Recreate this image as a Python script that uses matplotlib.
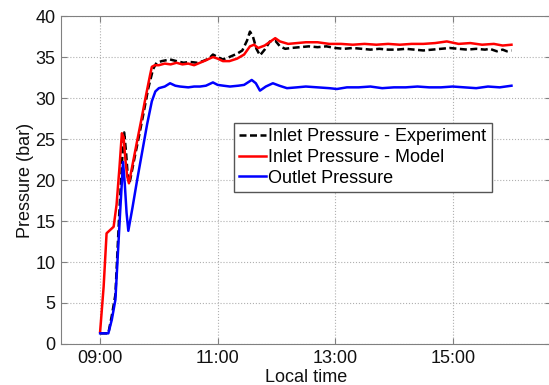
import matplotlib.pyplot as plt
from matplotlib.ticker import FuncFormatter

plt.rcParams['font.family'] = ['Liberation Sans', 'DejaVu Sans']
plt.rcParams['font.size'] = 13

# local time in decimal hours, pressure in bar
t_exp = [9.00, 9.14, 9.20, 9.26, 9.33, 9.38, 9.41, 9.44, 9.47, 9.50, 9.58,
         9.66, 9.74, 9.82, 9.90, 9.96, 10.05, 10.12, 10.19, 10.30, 10.42,
         10.53, 10.65, 10.75, 10.85, 10.92, 11.00, 11.09, 11.20, 11.33,
         11.42, 11.50, 11.55, 11.60, 11.66, 11.72, 11.80, 11.89, 11.98,
         12.06, 12.15, 12.25, 12.40, 12.55, 12.70, 12.85, 13.00, 13.15,
         13.30, 13.45, 13.60, 13.75, 13.90, 14.05, 14.20, 14.35, 14.50,
         14.65, 14.80, 14.95, 15.10, 15.25, 15.40, 15.55, 15.63, 15.75,
         15.85, 15.92, 16.00]
p_exp = [1.3, 1.3, 3.5, 6.0, 16.5, 23.0, 25.8, 23.5, 20.5, 19.6, 22.5,
         25.3, 28.2, 31.2, 33.5, 34.3, 34.5, 34.6, 34.7, 34.5, 34.3,
         34.4, 34.3, 34.5, 34.8, 35.3, 35.0, 34.7, 35.0, 35.4,
         35.8, 37.0, 38.1, 37.5, 36.0, 35.2, 35.9, 36.9, 37.0,
         36.3, 36.0, 36.1, 36.2, 36.3, 36.2, 36.3, 36.1, 36.0,
         36.1, 36.0, 35.9, 36.0, 35.9, 35.9, 36.0, 35.9, 35.8,
         35.9, 36.0, 36.1, 36.0, 35.9, 36.0, 35.9, 36.0, 35.7,
         35.9, 35.7, 35.8]

t_model = [9.00, 9.06, 9.11, 9.17, 9.23, 9.28, 9.33, 9.37, 9.40, 9.43,
           9.46, 9.49, 9.55, 9.62, 9.70, 9.78, 9.85, 9.88, 9.93, 10.00,
           10.10, 10.20, 10.30, 10.40, 10.50, 10.60, 10.70, 10.80, 10.92,
           11.00, 11.09, 11.20, 11.33, 11.45, 11.55, 11.62, 11.69, 11.80,
           11.90, 11.98, 12.06, 12.20, 12.35, 12.50, 12.70, 12.90, 13.10,
           13.30, 13.50, 13.70, 13.90, 14.10, 14.30, 14.50, 14.70, 14.90,
           15.10, 15.30, 15.50, 15.70, 15.85, 16.00]
p_model = [1.5, 7.0, 13.5, 13.9, 14.3, 17.0, 21.6, 25.7, 25.2, 22.5,
           20.5, 19.6, 21.8, 24.4, 27.3, 30.3, 32.8, 33.8, 34.0, 34.0,
           34.2, 34.1, 34.3, 34.1, 34.2, 34.0, 34.3, 34.6, 35.0,
           34.8, 34.5, 34.5, 34.8, 35.3, 36.3, 36.5, 36.1, 36.4,
           36.9, 37.3, 36.9, 36.6, 36.7, 36.8, 36.8, 36.6, 36.6,
           36.5, 36.6, 36.5, 36.6, 36.5, 36.6, 36.6, 36.7, 36.9,
           36.6, 36.7, 36.5, 36.6, 36.4, 36.5]

t_out = [9.00, 9.14, 9.20, 9.26, 9.34, 9.39, 9.42, 9.45, 9.48, 9.55, 9.63,
         9.72, 9.80, 9.88, 9.94, 10.00, 10.10, 10.19, 10.28, 10.36, 10.50,
         10.60, 10.70, 10.80, 10.92, 11.00, 11.10, 11.21, 11.35, 11.45,
         11.58, 11.65, 11.72, 11.82, 11.94, 12.05, 12.18, 12.35, 12.50,
         12.70, 12.90, 13.03, 13.20, 13.40, 13.60, 13.80, 14.00, 14.20,
         14.40, 14.60, 14.80, 15.00, 15.20, 15.40, 15.60, 15.80, 16.00]
p_out = [1.3, 1.3, 3.0, 5.4, 16.0, 22.2, 19.5, 16.0, 13.8, 16.6, 20.0,
         23.6, 26.8, 29.6, 30.8, 31.2, 31.4, 31.8, 31.5, 31.4, 31.3,
         31.4, 31.4, 31.5, 31.9, 31.6, 31.5, 31.4, 31.5, 31.6,
         32.2, 31.8, 30.9, 31.4, 31.8, 31.5, 31.2, 31.3, 31.4,
         31.3, 31.2, 31.1, 31.3, 31.3, 31.4, 31.2, 31.3, 31.3,
         31.4, 31.3, 31.3, 31.4, 31.3, 31.2, 31.4, 31.3, 31.5]

xticks = [9, 11, 13, 15]


def hhmm(h, pos):
    return '%02d:%02d' % (int(h), round((h - int(h)) * 60))


fig = plt.figure(figsize=(5.49, 3.85), dpi=100)
ax = fig.add_axes([0.111, 0.1065, 0.892, 0.8519])

ax.plot(t_exp, p_exp, color='black', lw=1.8, dashes=(2.8, 1.4),
        label='Inlet Pressure - Experiment')
ax.plot(t_model, p_model, color='#ff0000', lw=1.8, label='Inlet Pressure - Model')
ax.plot(t_out, p_out, color='#0000ff', lw=1.8, label='Outlet Pressure')

ax.set_xlim(8 + 1 / 3, 16 + 2 / 3)
ax.set_ylim(0, 40)
ax.set_xticks(xticks)
ax.set_yticks(range(0, 41, 5))
ax.xaxis.set_major_formatter(FuncFormatter(hhmm))

ax.grid(True, linestyle=':', color='#b0b0b0', lw=0.8)
ax.tick_params(direction='in', top=True, right=True, length=4,
               color='#808080', labelcolor='#111111', pad=4)
for s in ax.spines.values():
    s.set_color('#808080')

ax.set_xlabel('Local time', labelpad=2, color='#111111')
ax.set_ylabel('Pressure (bar)', labelpad=1, color='#111111')

leg = ax.legend(loc='upper left', bbox_to_anchor=(234 / 549, 1 - 123 / 385),
                bbox_transform=fig.transFigure, borderaxespad=0,
                fancybox=False, framealpha=1, edgecolor='#555555',
                handlelength=1.5, handletextpad=0.1, borderpad=0.3,
                labelspacing=0.2, fontsize=13)
leg.get_frame().set_linewidth(1.0)

fig.savefig('out.png', dpi=100)
